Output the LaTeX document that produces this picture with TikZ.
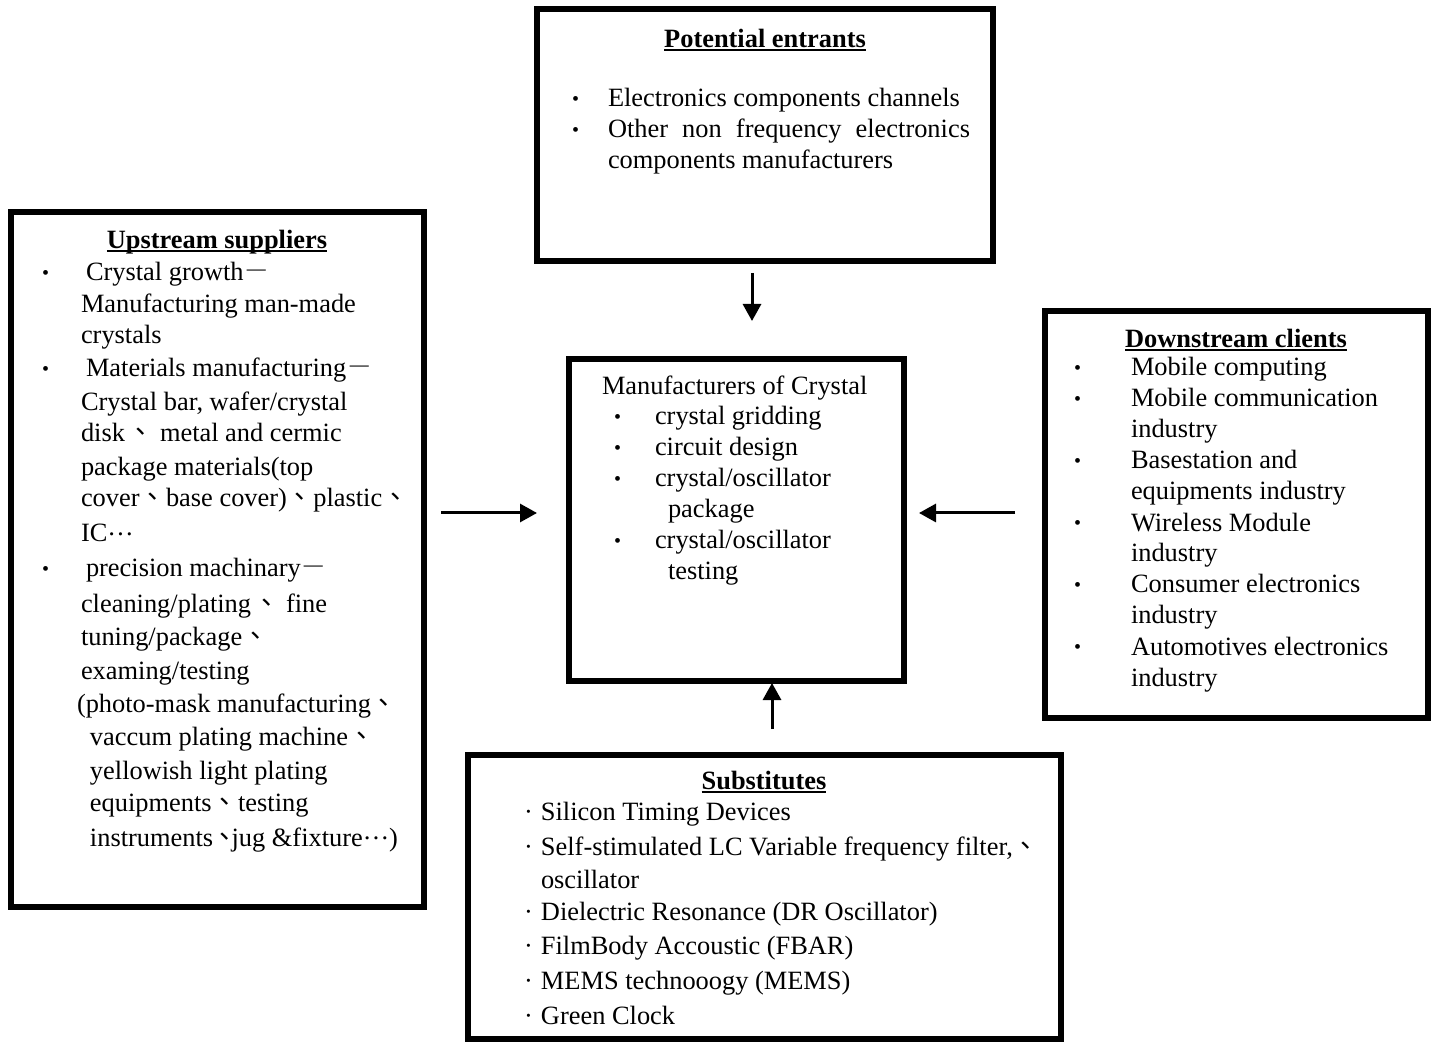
\documentclass[tikz,border=0pt]{standalone}
\usepackage{fontspec}
\setmainfont{Liberation Serif}
\newfontfamily\cjkf{Noto Sans CJK TC}
\usetikzlibrary{arrows.meta}
\newcommand\cj[1]{{\cjkf #1}}
\newcommand\fs{\fontsize{13.2pt}{15pt}\selectfont}
\newcommand\bul[1]{\makebox[#1][l]{\raisebox{0.6pt}{\fontsize{10pt}{10pt}\selectfont •}}}
\newcommand\myell{\raisebox{3.2pt}{…}}
\newcommand\ttlul[1]{\setbox0\hbox{#1}\rlap{\rule[-1.6pt]{\wd0}{1pt}}\box0}
\tikzset{
  box/.style={draw, line width=3pt, rectangle, inner sep=0pt},
  txt/.style={anchor=base west, inner sep=0pt, outer sep=0pt, font=\fs},
  ttl/.style={anchor=base, inner sep=0pt, outer sep=0pt, font=\fs\bfseries},
  arr/.style={line width=1.5pt, -{Triangle[length=8.5pt,width=9pt]}}
}
\begin{document}
\begin{tikzpicture}[x=0.5pt,y=-0.5pt]
\useasboundingbox (0,0) rectangle (1432,1043);
% boxes
\node[box, minimum width=228pt, minimum height=126pt] (pot) at (765,135) {};
\node[box, minimum width=206.5pt, minimum height=347.5pt] (up) at (217.5,559.5) {};
\node[box, minimum width=167.5pt, minimum height=161pt] (mfr) at (736.5,520) {};
\node[box, minimum width=191.5pt, minimum height=203.5pt] (down) at (1236.5,514.5) {};
\node[box, minimum width=296.5pt, minimum height=142pt] (sub) at (764.5,897) {};

% potential entrants
\node[ttl] (potT) at (765,48) {\ttlul{Potential entrants}};
\node[txt] (pot1) at (572,107) {\bul{18pt}Electronics components channels};
\node[txt] (pot2) at (572,138) {\bul{18pt}\makebox[181pt][s]{Other non frequency electronics}};
\node[txt] (pot3) at (608,169) {components manufacturers};

% upstream suppliers
\node[ttl] (upT) at (217,249) {\ttlul{Upstream suppliers}};
\node[txt] (up1) at (42,281) {\bul{22pt}Crystal growth\textcolor{black!60}{\cj{－}}};
\node[txt] (up2) at (81,313) {Manufacturing man-made};
\node[txt] (up3) at (81,344) {crystals};
\node[txt] (up4) at (42,377) {\bul{22pt}Materials manufacturing\textcolor{black!60}{\cj{－}}};
\node[txt] (up5) at (81,411) {Crystal bar, wafer/crystal};
\node[txt] (up6) at (81,442) {disk\kern1pt\cj{、}\ metal and cermic};
\node[txt] (up7) at (81,476) {package materials(top};
\node[txt] (up8) at (81,507) {cover\cj{、}base cover)\cj{、}plastic\cj{、}};
\node[txt] (up9) at (81,542) {IC\myell};
\node[txt] (up10) at (42,577) {\bul{22pt}precision machinary\textcolor{black!60}{\cj{－}}};
\node[txt] (up11) at (81,612) {cleaning/plating\kern1pt\cj{、}\ fine};
\node[txt] (up12) at (81,646) {tuning/package\cj{、}};
\node[txt] (up13) at (81,679) {examing/testing};
\node[txt] (up14) at (77,712) {(photo-mask manufacturing\cj{、}};
\node[txt] (up15) at (90,746) {vaccum plating machine\cj{、}};
\node[txt] (up16) at (90,779) {yellowish light plating};
\node[txt] (up17) at (90,812) {equipments\cj{、}testing};
\node[txt] (up18) at (90,846) {instruments\kern-1pt\cj{、}\kern-3pt jug \&fixture\myell)};

% manufacturers
\node[txt] (m0) at (602,395) {Manufacturers of Crystal};
\node[txt] (m1) at (614,425) {\bul{20.5pt}crystal gridding};
\node[txt] (m2) at (614,456) {\bul{20.5pt}circuit design};
\node[txt] (m3) at (614,487) {\bul{20.5pt}crystal/oscillator};
\node[txt] (m4) at (668,518) {package};
\node[txt] (m5) at (614,549) {\bul{20.5pt}crystal/oscillator};
\node[txt] (m6) at (668,580) {testing};

% downstream
\node[ttl] (downT) at (1236,348) {\ttlul{Downstream clients}};
\node[txt] (d1) at (1074,376) {\bul{28.5pt}Mobile computing};
\node[txt] (d2) at (1074,407) {\bul{28.5pt}Mobile communication};
\node[txt] (d3) at (1131,438) {industry};
\node[txt] (d4) at (1074,469) {\bul{28.5pt}Basestation and};
\node[txt] (d5) at (1131,500) {equipments industry};
\node[txt] (d6) at (1074,531) {\bul{28.5pt}Wireless Module};
\node[txt] (d7) at (1131,562) {industry};
\node[txt] (d8) at (1074,593) {\bul{28.5pt}Consumer electronics};
\node[txt] (d9) at (1131,624) {industry};
\node[txt] (d10) at (1074,655) {\bul{28.5pt}Automotives electronics};
\node[txt] (d11) at (1131,686) {industry};

% substitutes
\node[ttl] (subT) at (764,790) {\ttlul{Substitutes}};
\node[txt] (s1) at (524,820) {\makebox[8.5pt][l]{·}Silicon Timing Devices};
\node[txt] (s2) at (524,855) {\makebox[8.5pt][l]{·}Self-stimulated LC Variable frequency filter,\cj{、}};
\node[txt] (s3) at (541,888) {oscillator};
\node[txt] (s4) at (524,920) {\makebox[8.5pt][l]{·}Dielectric Resonance (DR Oscillator)};
\node[txt] (s5) at (524,954) {\makebox[8.5pt][l]{·}FilmBody Accoustic (FBAR)};
\node[txt] (s6) at (524,989) {\makebox[8.5pt][l]{·}MEMS technooogy (MEMS)};
\node[txt] (s7) at (524,1024) {\makebox[8.5pt][l]{·}Green Clock};

% arrows
\coordinate (aTs) at (752,273);
\coordinate (aTe) at (752,321);
\coordinate (aBs) at (772,729);
\coordinate (aBe) at (772,683);
\coordinate (aLs) at (441,513);
\coordinate (aLe) at (537,513);
\coordinate (aRs) at (1015,513);
\coordinate (aRe) at (919,513);
\draw[arr] (aTs) -- (aTe);
\draw[arr] (aBs) -- (aBe);
\draw[arr] (aLs) -- (aLe);
\draw[arr] (aRs) -- (aRe);
\end{tikzpicture}
\end{document}
